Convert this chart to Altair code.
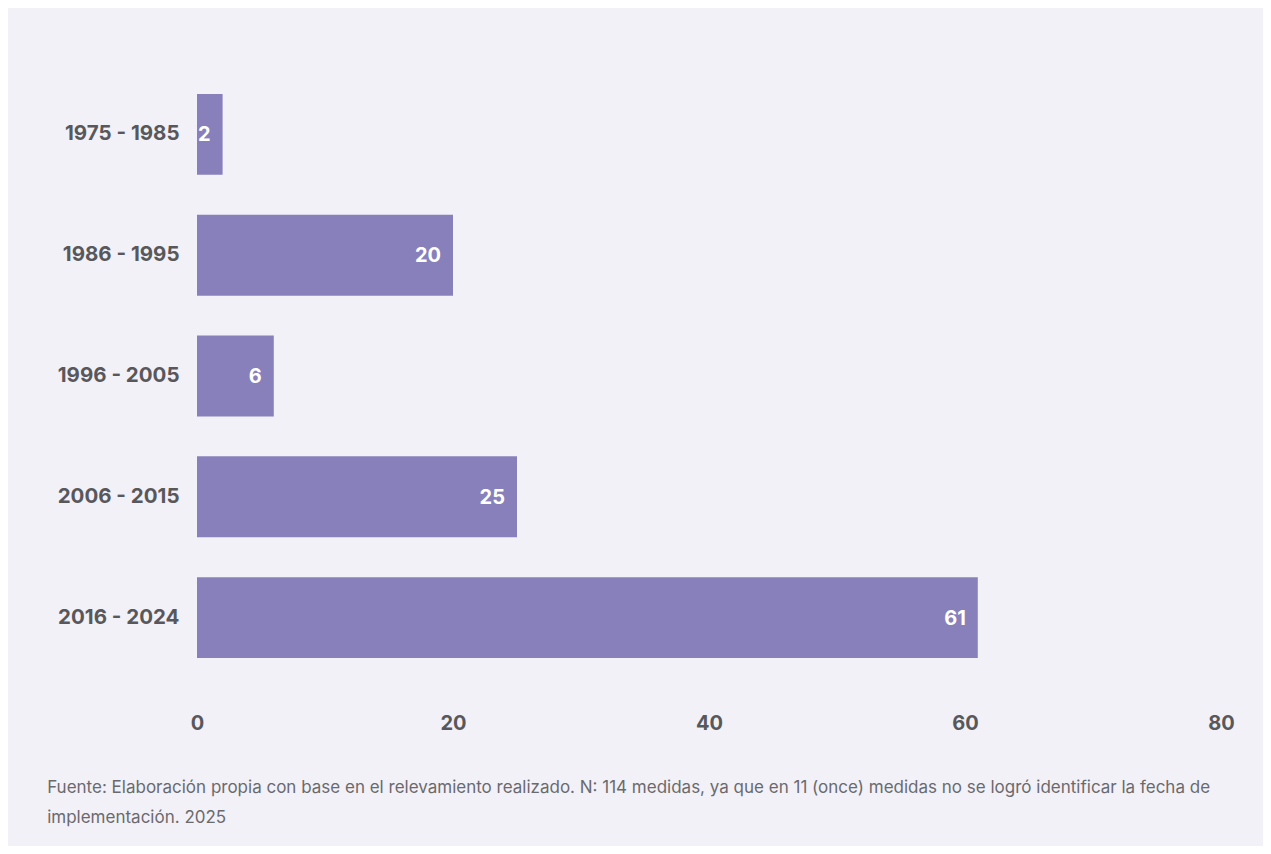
import altair as alt
import pandas as pd

periods = ["1975 - 1985", "1986 - 1995", "1996 - 2005", "2006 - 2015", "2016 - 2024"]
counts = [2, 20, 6, 25, 61]
x_ticks = [0, 20, 40, 60, 80]
note_lines = [
    "Fuente: Elaboración propia con base en el relevamiento realizado. N: 114 medidas, ya que en 11 (once) medidas no se logró identificar la fecha de",
    "implementación.  2025",
]

df = pd.DataFrame({"periodo": periods, "n": counts})

FONT = "Inter"
BG = "#f2f1f7"
BAR = "#8880bb"
TXT = "#58585c"

y = alt.Y(
    "periodo:N",
    sort=periods,
    title=None,
    scale=alt.Scale(paddingInner=0.33, paddingOuter=0.165),
    axis=alt.Axis(
        labelFont=FONT, labelFontSize=20.5, labelFontWeight="bold", labelColor=TXT,
        labelPadding=18, ticks=False, domain=False,
    ),
)
x = alt.X(
    "n:Q",
    title=None,
    scale=alt.Scale(domain=[0, 80]),
    axis=alt.Axis(
        values=x_ticks, labelFont=FONT, labelFontSize=20, labelFontWeight="bold",
        labelColor=TXT, labelPadding=35, labelFlush=False, ticks=False,
        domain=False, grid=False,
    ),
)

bars = alt.Chart(df).mark_bar(color=BAR).encode(x=x, y=y)
labels = alt.Chart(df).mark_text(
    align="right", baseline="middle", dx=-12, dy=1, color="white",
    font=FONT, fontSize=20, fontWeight="bold",
).encode(x=alt.X("n:Q"), y=alt.Y("periodo:N", sort=periods), text="n:Q")

chart = (
    alt.layer(bars, labels)
    .properties(
        width=1024,
        height=604,
        background=BG,
        autosize=alt.AutoSizeParams(type="none"),
        padding={"left": 189, "top": 66, "right": 42, "bottom": 168},
        title=alt.TitleParams(
            text=note_lines, orient="bottom", anchor="start", frame="bounds",
            font=FONT, fontSize=17, fontWeight="normal", color="#6a6a6e",
            lineHeight=30, offset=47, dx=-10,
        ),
    )
    .configure_view(stroke=None)
)

chart.save("out.html", embed_options={"renderer": "svg", "actions": False})
